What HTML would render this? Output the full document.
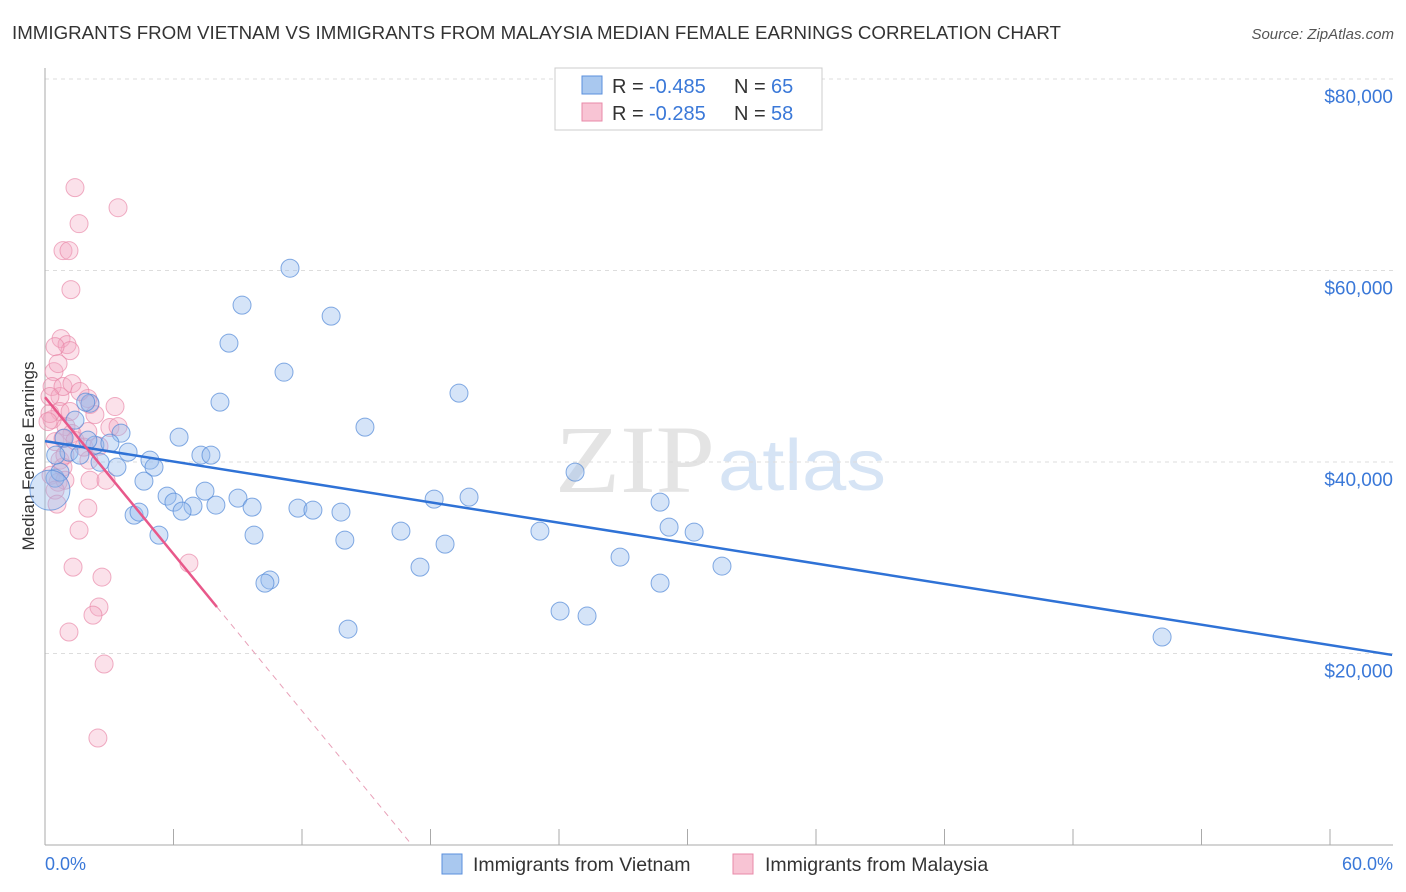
<!DOCTYPE html>
<html><head><meta charset="utf-8"><style>
body{margin:0;background:#fff;font-family:"Liberation Sans",sans-serif;}
svg{display:block}
</style></head><body>
<svg id="chart" width="1406" height="892">
<text x="12" y="39" font-size="18" fill="#333" textLength="1049" lengthAdjust="spacingAndGlyphs">IMMIGRANTS FROM VIETNAM VS IMMIGRANTS FROM MALAYSIA MEDIAN FEMALE EARNINGS CORRELATION CHART</text>
<text x="1394" y="39" font-size="15" fill="#555" font-style="italic" text-anchor="end">Source: ZipAtlas.com</text>
<text x="555" y="492" font-size="96" fill="#e4e4e4" font-family="Liberation Serif,serif" textLength="160" lengthAdjust="spacingAndGlyphs">ZIP</text>
<text x="718" y="490" font-size="72" fill="#d6e4f5" textLength="168" lengthAdjust="spacingAndGlyphs">atlas</text>
<g id="grid"></g>
<line x1="45" y1="68" x2="45" y2="845" stroke="#aaa"/>
<line x1="45" y1="845" x2="1393" y2="845" stroke="#aaa"/>
<text transform="translate(34,456) rotate(-90)" font-size="17" fill="#333" text-anchor="middle">Median Female Earnings</text>
<text x="45" y="870" font-size="18" fill="#3a78d8">0.0%</text>
<text x="1393" y="870" font-size="18" fill="#3a78d8" text-anchor="end">60.0%</text>
<g id="points"></g>
<g id="lines"></g>
<g>
<rect x="555" y="68" width="267" height="62" fill="#fff" stroke="#ccc"/>
<rect x="582" y="76" width="20" height="18" fill="#a9c8ef" stroke="#5a8fdc"/>
<rect x="582" y="103" width="20" height="18" fill="#f8c4d4" stroke="#e88aa8"/>
<text x="612" y="93" font-size="20" fill="#333">R =</text>
<text x="649" y="93" font-size="20" fill="#3a78d8">-0.485</text>
<text x="734" y="93" font-size="20" fill="#333">N =</text>
<text x="771" y="93" font-size="20" fill="#3a78d8">65</text>
<text x="612" y="120" font-size="20" fill="#333">R =</text>
<text x="649" y="120" font-size="20" fill="#3a78d8">-0.285</text>
<text x="734" y="120" font-size="20" fill="#333">N =</text>
<text x="771" y="120" font-size="20" fill="#3a78d8">58</text>
</g>
<g>
<rect x="442" y="854" width="20" height="20" fill="#a9c8ef" stroke="#5a8fdc"/>
<text x="473" y="871" font-size="19.5" fill="#333">Immigrants from Vietnam</text>
<rect x="733" y="854" width="20" height="20" fill="#f8c4d4" stroke="#e88aa8"/>
<text x="765" y="871" font-size="19.5" fill="#333">Immigrants from Malaysia</text>
</g>
</svg>
<script>
const yTicks=[20000,40000,60000,80000];
const yTickLabels=["$20,000","$40,000","$60,000","$80,000"];
const xTicks=[0,6,12,18,24,30,36,42,48,54,60];
const blueX=[11.44,9.2,13.36,8.59,11.16,19.33,8.17,2.1,14.94,3.55,6.26,2.33,3.03,0.89,3.88,1.12,7.28,7.75,4.9,5.09,24.75,3.36,4.62,5.7,7.47,9.01,18.17,19.8,28.72,6.02,6.91,7.98,6.4,9.67,11.81,12.51,13.82,4.16,4.39,29.14,30.31,16.62,23.11,5.32,9.76,14.0,18.68,26.85,17.51,31.61,10.5,10.27,28.72,24.05,25.31,14.15,52.16,0.47,0.7,1.63,2.57,2.0,0.5,1.4,1.9];
const blueY=[60240,56380,55230,52410,49380,47190,46250,46140,43640,43010,42600,41760,41970,42490,41030,41030,40720,40720,40190,39460,38940,39460,38000,36440,36960,36230,36120,36330,35810,35810,35390,35500,34870,35290,35180,34970,34770,34450,34770,33200,32680,32780,32780,32360,32360,31840,31420,30070,29020,29130,27670,27350,27350,24430,23910,22550,21720,38310,38940,40720,39980,42280,40720,44370,46250];
const pinkX=[1.4,3.41,1.59,0.84,1.12,1.21,0.75,1.03,1.17,0.47,0.42,0.33,2.0,2.1,0.7,0.7,0.33,1.17,0.23,0.14,0.98,1.26,0.47,0.84,2.0,3.03,3.41,0.7,0.84,0.28,0.61,0.93,2.05,1.82,2.52,2.1,2.85,2.0,1.59,6.72,1.31,2.66,2.52,2.24,1.12,2.76,2.47,0.47,0.84,1.26,0.61,0.23,3.27,1.63,2.33,0.93,1.4,0.56];
const pinkY=[68650,66560,64890,62070,62070,58000,52880,52260,51630,52050,49440,47880,46630,46000,46840,45270,44430,45270,45060,44220,43700,42970,42130,42450,43180,43600,43700,40190,39460,38620,37890,38100,40190,41550,41660,38100,38100,35180,32880,29440,29020,27980,24850,24010,22240,18900,11170,37060,47880,48190,50280,46840,45790,47360,44950,40720,42240,35600];
const blueLine=[42180,-355];
const pinkLine=[46770,-2730];
const ns="http://www.w3.org/2000/svg";
const X=v=>45+v/60*1285, Y=v=>845-v/20000*191.5;
function mk(t,a,p){const e=document.createElementNS(ns,t);for(const k in a)e.setAttribute(k,a[k]);p.appendChild(e);return e;}
const grid=document.getElementById('grid');
yTicks.forEach((t,i)=>{
 const l=mk('line',{x1:45,x2:1393,y1:Y(t),y2:Y(t),stroke:'#ddd','stroke-dasharray':'4,4'},grid);
 
 
 const tx=mk('text',{x:1393,y:Y(t)+24,'font-size':19,fill:'#3a78d8','text-anchor':'end'},grid);
 tx.textContent=yTickLabels[i];
 
 
});
xTicks.forEach(t=>{
 const l=mk('line',{x1:X(t),x2:X(t),y1:829,y2:845,stroke:'#aaa'},grid);
 
 
});
const pts=document.getElementById('points');
pinkX.forEach((x,i)=>{
 const c=mk('circle',{cx:X(x),cy:Y(pinkY[i]),r:9,fill:'rgba(244,170,196,0.35)',stroke:'rgba(232,130,165,0.65)'},pts);
 
 
});
blueX.forEach((x,i)=>{
 const c=mk('circle',{cx:X(x),cy:Y(blueY[i]),r:9,fill:'rgba(150,188,238,0.4)',stroke:'rgba(80,135,215,0.7)'},pts);
 
 
});
const big=mk('circle',{cx:X(0.23),cy:Y(37060),r:20,fill:'rgba(150,188,238,0.4)',stroke:'rgba(80,135,215,0.7)'},pts);


const lines=document.getElementById('lines');
const bl=mk('line',{x1:X(0),y1:Y(blueLine[0]),x2:X(62.9),y2:Y(blueLine[0]+blueLine[1]*62.9),stroke:'#2f72d6','stroke-width':2.5},lines);


const pl=mk('line',{x1:X(0),y1:Y(pinkLine[0]),x2:X(8.03),y2:Y(pinkLine[0]+pinkLine[1]*8.03),stroke:'#e8588a','stroke-width':2.5},lines);


const xz=-pinkLine[0]/pinkLine[1];
const pd=mk('line',{x1:X(8.03),y1:Y(pinkLine[0]+pinkLine[1]*8.03),x2:X(xz),y2:Y(0),stroke:'#e8a0b8','stroke-width':1,'stroke-dasharray':'6,5'},lines);


</script>
</body></html>
